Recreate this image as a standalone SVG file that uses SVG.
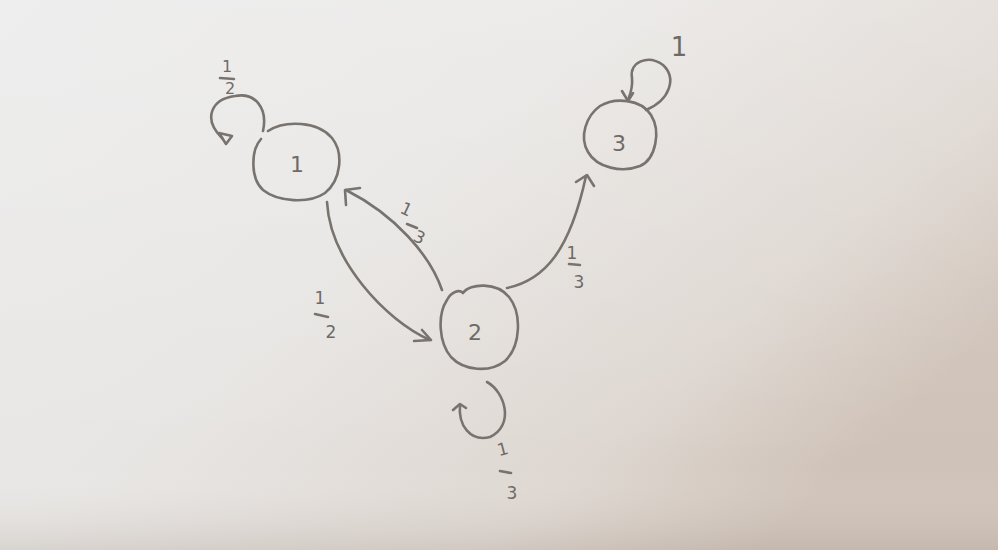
<svg xmlns="http://www.w3.org/2000/svg" width="998" height="550" viewBox="0 0 998 550">
<defs>
<linearGradient id="paper" x1="0" y1="0" x2="1" y2="0.6">
<stop offset="0" stop-color="#eaeaea"/>
<stop offset="0.45" stop-color="#e8e6e4"/>
<stop offset="0.8" stop-color="#ded7d1"/>
<stop offset="1" stop-color="#cfc2b8"/>
</linearGradient>
<linearGradient id="shade" x1="0" y1="0" x2="0" y2="1">
<stop offset="0" stop-color="#ffffff" stop-opacity="0.2"/>
<stop offset="0.85" stop-color="#ffffff" stop-opacity="0"/>
<stop offset="1" stop-color="#a89c92" stop-opacity="0.25"/>
</linearGradient>
<style>
.ln{fill:none;stroke:#78736e;stroke-width:2.6;stroke-linecap:round;stroke-linejoin:round}
.t{font-family:"DejaVu Sans",sans-serif;fill:#6f6a66;text-anchor:middle}
.n{font-size:22px}
.f{font-size:17px}
</style>
</defs>
<rect width="998" height="550" fill="url(#paper)"/>
<rect width="998" height="550" fill="url(#shade)"/>
<g id="node1">
<path class="ln" d="M268,131 C285,120 318,121 332,138 C344,153 341,180 325,193 C309,204 278,202 263,190 C250,178 251,150 261,139"/>
<text class="t n" x="297" y="172">1</text>
</g>
<g id="node2">
<path class="ln" d="M447,300 C451,292 459,289 463,293 C470,283 497,282 509,297 C522,313 521,346 505,361 C490,373 464,371 451,357 C439,343 437,315 447,300"/>
<text class="t n" x="475" y="340">2</text>
</g>
<g id="node3">
<path class="ln" d="M600,106 C615,97 641,99 651,115 C661,131 656,159 640,166 C622,173 597,168 588,152 C579,137 586,116 600,106"/>
<text class="t n" x="619" y="151">3</text>
</g>
<g id="connectors">
<path class="ln" d="M263,131 C268,108 255,92 235,96 C212,99 202,118 222,138"/>
<path class="ln" d="M219,133 L226,144 L232,136 Z"/>
<path class="ln" d="M646,110 C670,100 677,78 663,65 C648,54 629,62 632,78 C633,88 630,95 628,100"/>
<path class="ln" d="M622,91 L628,101 L633,93"/>
<path class="ln" d="M327,202 C330,260 385,320 430,340"/>
<path class="ln" d="M414,341 L431,340 L422,330"/>
<path class="ln" d="M442,290 C430,255 395,215 346,190"/>
<path class="ln" d="M346,205 L345,190 L360,188"/>
<path class="ln" d="M507,288 C545,280 570,250 586,176"/>
<path class="ln" d="M576,182 L587,175 L594,186"/>
<path class="ln" d="M487,382 C505,392 515,425 490,437 C470,442 458,425 460,405"/>
<path class="ln" d="M453,410 L460,404 L466,408"/>
</g>
<g id="labels">
<text class="t" font-size="16" x="227" y="72">1</text>
<path class="ln" d="M220,78 L234,79" stroke-width="2"/>
<text class="t" font-size="16" x="230" y="94">2</text>
<text class="t" font-size="26" x="679" y="56">1</text>
<text class="t f" x="320" y="304">1</text>
<path class="ln" d="M315,314 L328,317" stroke-width="2"/>
<text class="t f" x="331" y="338">2</text>
<text class="t f" x="406" y="215" transform="rotate(25 406 210)">1</text>
<path class="ln" d="M407,224 L417,228" stroke-width="2"/>
<text class="t f" x="419" y="243" transform="rotate(25 419 238)">3</text>
<text class="t f" x="572" y="259">1</text>
<path class="ln" d="M569,264 L580,265" stroke-width="2"/>
<text class="t f" x="579" y="288">3</text>
<text class="t f" x="503" y="455" transform="rotate(-15 503 450)">1</text>
<path class="ln" d="M500,471 L511,473" stroke-width="2"/>
<text class="t f" x="512" y="499">3</text>
</g>
</svg>
